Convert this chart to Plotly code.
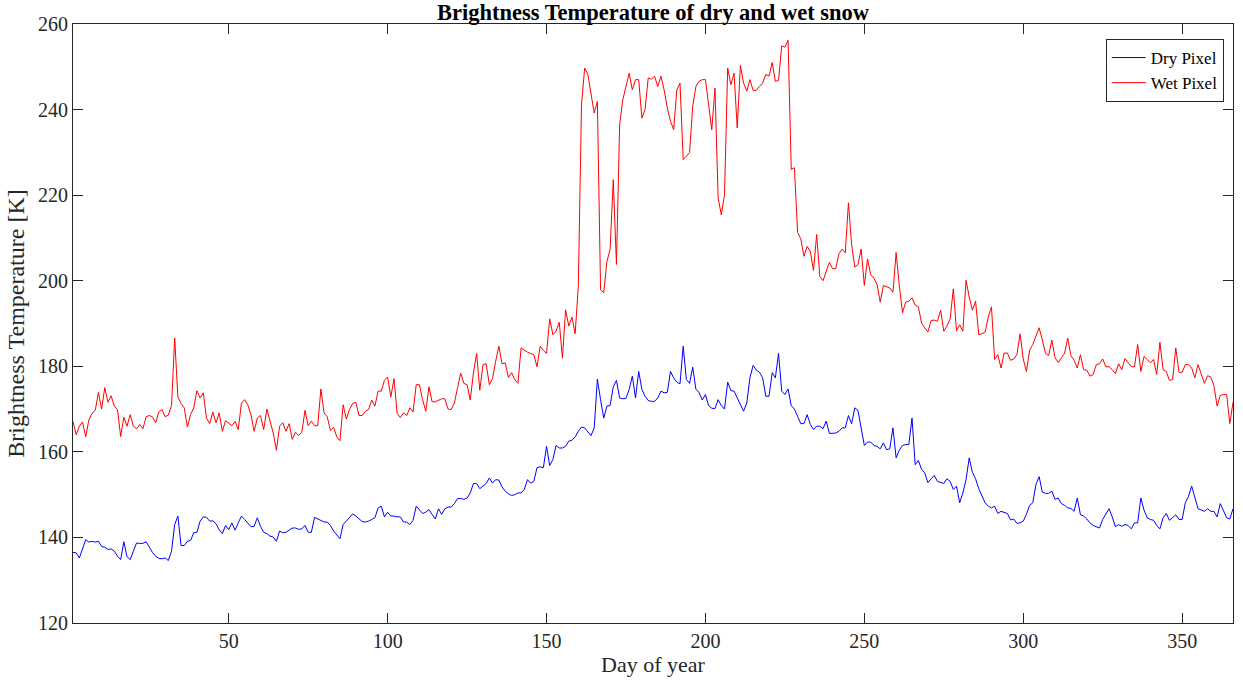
import plotly.graph_objects as go

# Daily brightness temperatures (K), day 1..366
wet_pixel = [
    167.1, 164.0, 166.0, 167.0, 163.5, 167.5, 169.0, 169.7, 173.9, 170.0,
    175.0, 171.6, 173.1, 170.7, 169.9, 163.6, 168.1, 166.0, 168.7, 166.0,
    165.4, 166.4, 165.4, 168.2, 168.5, 168.2, 166.8, 169.3, 169.9, 168.2,
    168.6, 170.8, 186.6, 172.8, 171.3, 170.3, 165.8, 168.7, 170.3, 174.3,
    172.6, 173.8, 167.9, 166.6, 169.3, 166.8, 169.1, 164.8, 167.3, 166.8,
    166.1, 167.1, 165.2, 171.4, 172.2, 171.0, 168.7, 164.8, 167.9, 168.5,
    165.2, 170.0, 167.5,
    164.4, 160.4, 166.0, 166.8, 164.8, 166.6, 162.9, 164.6, 163.8, 164.6,
    169.7, 166.1, 167.2, 166.1, 166.1, 174.7, 169.1, 168.2, 165.0, 165.8,
    163.5, 162.6, 171.0, 167.7, 169.9, 171.3, 171.6, 168.5, 168.5, 169.5,
    169.9, 172.1, 170.7, 174.2, 174.2, 176.7, 177.5, 172.8, 177.1, 169.0,
    168.0, 169.1, 168.5, 170.3, 169.3, 175.7, 175.7, 172.2, 169.5, 175.2,
    171.7, 171.7, 172.0, 172.4, 172.4, 170.0, 169.9, 171.4, 175.0, 178.4,
    176.0,
    175.7, 172.1, 178.5, 183.0, 174.4, 180.4, 180.6, 175.7, 177.1, 181.2,
    184.7, 180.6, 180.8, 177.4, 178.5, 176.9, 176.0, 184.3, 183.7, 183.3,
    183.0, 182.7, 179.9, 184.7, 183.7, 183.0,
    191.1, 187.4, 188.2, 190.3, 181.9, 193.2, 189.4, 191.5, 187.6, 198.7,
    241.1, 249.7, 248.2, 243.5, 239.2, 241.9, 197.9, 197.2, 204.5, 207.3,
    223.6, 203.8, 236.5, 242.3, 245.8, 248.5, 244.6, 247.0, 247.0, 238.0,
    240.0, 247.4, 247.1, 247.8,
    245.4, 247.8, 244.6, 240.4, 237.3, 235.3, 244.6, 246.2, 228.3, 229.1,
    229.9, 240.8, 245.4, 246.6, 247.0, 247.0, 240.8, 235.3, 245.0, 219.3,
    215.4, 220.1, 249.7, 245.8, 248.5, 235.7, 250.3, 246.2, 244.3, 247.0,
    244.5, 244.5, 245.4, 246.2, 248.2, 247.8, 251.0, 246.6, 246.8, 254.9,
    254.6, 256.2, 226.0, 226.4, 211.3, 209.8, 205.7, 208.0, 206.9, 202.4,
    210.8, 201.0, 200.0, 202.0, 204.3, 202.8, 202.8, 206.3, 207.4, 206.5,
    218.2, 208.4,
    203.2, 203.8, 207.4, 198.9, 205.1, 201.4, 200.6, 199.1, 195.0, 198.9,
    198.5, 198.3, 197.3, 206.6, 198.9, 192.5, 195.0, 195.2, 196.0, 194.3,
    193.9, 190.1, 189.0, 188.0, 190.7, 190.8, 190.5, 193.1, 188.2, 189.4,
    191.1, 198.1, 188.3, 189.7, 188.2, 200.1, 196.2, 193.1, 195.2, 187.4,
    187.6, 188.0, 191.5, 193.9, 181.6, 182.7, 179.6, 183.1, 183.1, 181.4,
    181.7, 182.7, 187.6, 181.7, 178.8, 183.7, 185.1, 187.2, 189.0, 186.2,
    183.0,
    182.5, 186.1, 182.0, 180.9, 182.0, 183.0, 186.6, 182.5, 181.4, 179.6,
    182.7, 179.2, 179.1, 177.7, 178.1, 180.4, 180.6, 181.7, 179.9, 179.9,
    179.2, 178.3, 180.6, 179.2, 181.8, 180.9, 179.9, 179.9, 185.1, 178.8,
    182.3, 181.6, 180.8, 181.6, 178.1, 185.6, 179.2, 178.8, 176.7, 176.9,
    184.3, 178.6, 178.6, 180.4, 180.4, 179.6, 177.3, 180.4, 178.3, 176.0,
    177.8, 177.5, 175.5, 170.7, 173.2, 173.4, 173.4, 166.6, 171.6,
]

dry_pixel = [
    136.5, 136.4, 135.2, 137.3, 139.5, 138.9, 139.1, 138.9, 139.1, 137.9,
    137.7, 137.2, 137.3, 136.8, 135.6, 134.8, 139.0, 135.5, 134.8, 136.8,
    138.7, 138.6, 138.6, 139.0, 137.6, 136.5, 135.6, 135.1, 135.0, 135.2,
    134.6, 136.8, 143.0, 145.0, 138.1, 138.1, 139.1, 139.3, 141.1, 141.2,
    143.8, 144.8, 144.7, 143.8, 143.9, 143.2, 141.8, 140.9, 142.8, 141.8,
    143.4, 141.7, 143.4, 145.0, 144.2, 143.4, 142.5, 142.6, 144.6, 142.6,
    141.2, 140.9, 140.3,
    140.1, 139.1, 141.5, 141.1, 141.2, 141.7, 142.2, 142.2, 141.9, 142.0,
    142.8, 141.2, 141.2, 144.7, 144.3, 144.0, 143.6, 143.6, 142.8, 141.5,
    140.7, 139.7, 143.0, 143.9, 144.6, 145.5, 145.0, 144.3, 143.7, 143.6,
    143.8, 144.2, 144.6, 146.9, 147.3, 144.8, 145.9, 145.0, 145.0, 144.8,
    144.8, 143.6, 143.6, 143.0, 144.0, 147.3, 146.4, 145.6, 145.9, 146.5,
    145.4, 144.3, 146.7, 145.4, 146.7, 147.1, 147.1, 147.9, 149.1, 149.1,
    148.9,
    149.2, 150.4, 152.6, 152.6, 151.4, 152.0, 152.6, 153.9, 152.7, 153.5,
    153.4, 151.8, 150.8, 150.2, 149.8, 150.0, 150.4, 150.4, 151.2, 153.5,
    152.7, 153.1, 156.3, 156.5, 156.3, 161.3, 156.8, 158.2, 161.5, 160.9,
    160.9, 161.3, 162.5, 162.7, 163.5, 164.8, 165.8, 165.6, 164.8, 163.8,
    165.6, 177.0, 172.2, 167.9, 170.7, 170.8, 175.2, 176.7, 172.6, 172.4,
    172.5, 174.6, 177.7, 172.6, 178.8, 174.6, 173.0, 172.0, 171.8,
    171.8, 172.6, 174.2, 173.8, 173.9, 178.8, 177.3, 176.3, 175.9, 184.7,
    176.9, 176.0, 179.8, 174.6, 173.9, 172.1, 173.4, 170.8, 170.2, 170.1,
    172.2, 170.8, 170.0, 176.3, 174.3, 174.2, 172.6, 171.1, 169.5, 171.4,
    177.3, 180.2, 179.1, 178.6, 177.3, 173.0, 173.0, 178.5, 177.3, 183.0,
    174.2, 173.4, 174.7, 170.8, 170.0, 168.3, 166.6, 166.6, 168.7, 166.4,
    165.2, 166.0, 166.0, 165.4, 167.2, 164.3, 164.4, 164.4, 164.8, 165.6,
    165.6, 168.5, 166.6,
    170.3, 169.7, 165.8, 161.5, 162.3, 162.3, 161.5, 161.3, 160.7, 162.1,
    160.5, 160.7, 165.6, 158.6, 160.4, 161.5, 161.7, 161.7, 167.9, 157.0,
    158.0, 155.9, 155.1, 152.8, 153.7, 154.5, 153.1, 152.9, 152.6, 153.7,
    153.1, 151.2, 152.0, 148.1, 150.4, 153.5, 158.6, 155.2, 153.7, 151.4,
    149.6, 148.1, 147.3, 146.9, 147.3, 145.6, 146.1, 145.9, 145.6, 144.1,
    144.3, 143.3, 143.4, 143.8, 145.4, 147.5, 148.1, 152.4, 154.2, 150.6,
    150.3,
    150.3, 150.8, 148.9, 149.2, 147.9, 147.5, 146.9, 146.8, 146.1, 149.2,
    145.3, 145.0, 144.3, 143.4, 142.8, 142.5, 142.2, 144.2, 145.3, 146.7,
    144.8, 142.5, 143.0, 142.6, 143.0, 142.8, 142.0, 143.4, 143.4, 149.2,
    146.4, 144.6, 144.2, 144.0, 142.8, 142.0, 144.6, 145.6, 144.0, 144.6,
    145.3, 144.2, 144.2, 148.1, 149.6, 152.0, 149.6, 146.7, 146.4, 146.1,
    146.7, 146.1, 146.1, 144.8, 147.9, 146.1, 144.6, 144.3, 146.7,
]

days = list(range(1, len(dry_pixel) + 1))
x_ticks = [50, 100, 150, 200, 250, 300, 350]
y_ticks = [120, 140, 160, 180, 200, 220, 240, 260]

FONT = "Liberation Serif, Times New Roman, serif"
AXIS_COLOR = "#262626"

fig = go.Figure()
fig.add_trace(go.Scatter(x=days, y=dry_pixel, mode="lines", name="Dry Pixel",
                         line=dict(color="#0000ff", width=1)))
fig.add_trace(go.Scatter(x=days, y=wet_pixel, mode="lines", name="Wet Pixel",
                         line=dict(color="#ff0000", width=1)))

axis_common = dict(
    showline=True, linecolor=AXIS_COLOR, linewidth=1, mirror="ticks",
    ticks="inside", ticklen=10, tickcolor=AXIS_COLOR, tickwidth=1,
    showgrid=False, zeroline=False,
    tickfont=dict(family=FONT, size=20, color=AXIS_COLOR),
)

fig.update_layout(
    width=1243, height=684,
    paper_bgcolor="white", plot_bgcolor="white",
    margin=dict(l=73, r=10, t=24, b=61),
    title=dict(text="<b>Brightness Temperature of dry and wet snow</b>",
               x=(73 + 1233) / 2 / 1243, xanchor="center",
               y=1 - 12 / 684, yanchor="middle",
               font=dict(family=FONT, size=22.5, color="black")),
    xaxis=dict(range=[1, 366], tickvals=x_ticks,
               title=dict(text="Day of year", standoff=4,
                          font=dict(family=FONT, size=22, color=AXIS_COLOR)),
               **axis_common),
    yaxis=dict(range=[120, 260], tickvals=y_ticks,
               title=dict(text="Brightness Temperature [K]", standoff=6,
                          font=dict(family=FONT, size=24, color=AXIS_COLOR)),
               **axis_common),
    legend=dict(x=0.992, y=0.975, xanchor="right", yanchor="top",
                bgcolor="white", bordercolor=AXIS_COLOR, borderwidth=1,
                font=dict(family=FONT, size=17, color="black"),
                tracegroupgap=0, itemwidth=34),
    showlegend=True,
)

fig.write_html("out.html")
